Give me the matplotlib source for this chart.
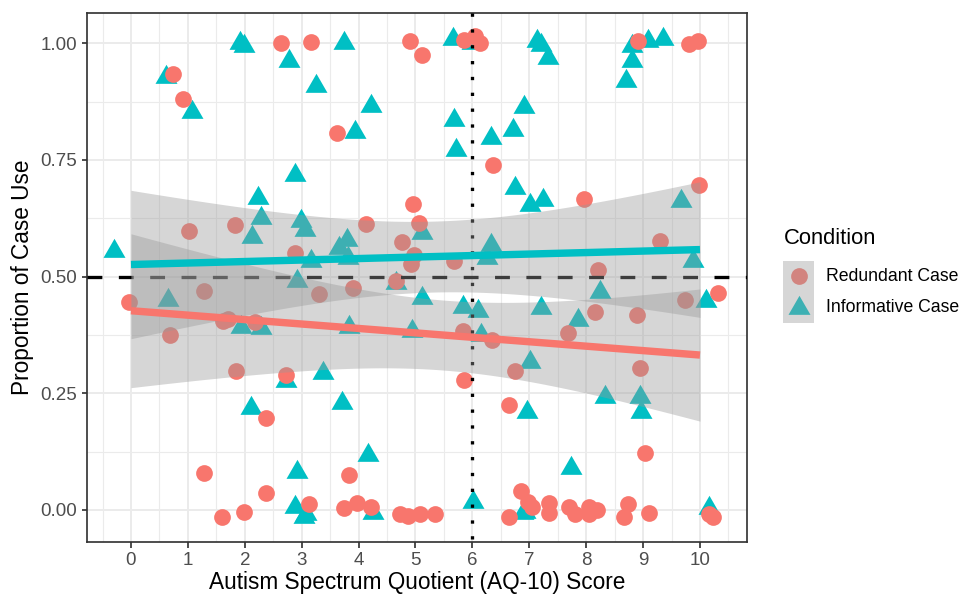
import numpy as np
import matplotlib
matplotlib.use("Agg")
import matplotlib.pyplot as plt
from matplotlib.patches import Rectangle

plt.rcParams['font.family'] = ['Liberation Sans', 'DejaVu Sans']

# ---- data -------------------------------------------------------------
conditions = ["Redundant Case", "Informative Case"]
colors = ["#F8766D", "#00BFC4"]
legend_colors = ["#D2847F", "#3DB0B3"]

# jittered participant-level proportions (Redundant Case)
red_x = [0.73, 0.92, 2.64, 3.17, 4.91, 5.12, 5.86, 6.04, 6.14, 3.62,
         6.36, 8.91, 9.80, 9.97, 9.98, 7.96, 9.30, 8.21, 10.32, 9.74,
         8.16, 8.90, 7.68, 6.74, 8.94, 6.65, 9.03, 6.85, 6.98, 7.04,
         7.35, 7.35, 7.70, 7.80, 8.05, 8.05, 8.19, 8.74, 8.66, 9.11,
         10.16, 10.22, 6.65, 3.84, 5.85, 3.13, 3.74, 3.97, 4.22, 4.72,
         4.87, 5.08, 5.35, 1.85, 2.72, 2.38, 1.28, 2.38, 1.98, 1.60,
         1.83, 1.02, 2.89, 1.29, -0.04, 1.62, 1.70, 2.18, 0.68, 4.96,
         5.06, 4.13, 4.77, 4.98, 4.92, 5.67, 4.66, 3.30, 3.91, 5.83,
         6.35]
red_y = [0.935, 0.881, 1.000, 1.003, 1.004, 0.974, 1.008, 1.015, 1.000, 0.808,
         0.740, 1.005, 0.998, 1.005, 0.697, 0.667, 0.577, 0.514, 0.465, 0.451,
         0.424, 0.418, 0.379, 0.298, 0.305, 0.225, 0.122, 0.041, 0.018, 0.007,
         0.016, -0.007, 0.007, -0.009, 0.006, -0.009, -0.001, 0.013, -0.016, -0.006,
         -0.009, -0.016, -0.015, 0.075, 0.279, 0.013, 0.005, 0.016, 0.007, -0.009,
         -0.012, -0.009, -0.009, 0.298, 0.290, 0.198, 0.079, 0.036, -0.004, -0.016,
         0.610, 0.597, 0.551, 0.470, 0.445, 0.405, 0.410, 0.402, 0.374, 0.656,
         0.615, 0.613, 0.574, 0.547, 0.527, 0.533, 0.491, 0.463, 0.476, 0.383,
         0.365]

# jittered participant-level proportions (Informative Case)
teal_x = [1.92, 1.98, 2.78, 0.62, 1.08, 2.89, 3.74, 5.66, 6.00, 3.25,
          4.22, 3.94, 5.67, 5.72, 6.32, 6.71, 6.74, 7.13, 7.20, 7.33,
          8.80, 9.09, 9.35, 8.80, 8.70, 6.90, 7.01, 7.24, 9.66, 9.87,
          8.25, 10.11, 7.21, 7.86, 7.02, 6.96, 8.33, 8.94, 8.96, 7.73,
          6.89, 6.93, 10.16, 3.37, 3.71, 4.16, 6.01, 3.07, 4.26, 2.73,
          2.11, 2.91, 2.88, 3.04, 2.23, 2.28, 2.13, -0.30, 2.98, 3.05,
          2.91, 0.65, 1.94, 2.28, 3.80, 3.66, 3.81, 3.16, 5.12, 6.32,
          6.26, 4.66, 5.12, 5.83, 6.10, 3.83, 4.94, 6.16]
teal_y = [1.000, 0.995, 0.962, 0.927, 0.852, 0.717, 1.000, 1.010, 1.000, 0.908,
          0.865, 0.810, 0.835, 0.771, 0.798, 0.815, 0.690, 1.005, 0.996, 0.969,
          0.994, 1.005, 1.009, 0.962, 0.919, 0.864, 0.654, 0.665, 0.662, 0.533,
          0.468, 0.447, 0.433, 0.408, 0.318, 0.211, 0.243, 0.243, 0.211, 0.089,
          -0.007, -0.004, 0.004, 0.294, 0.229, 0.118, 0.018, -0.009, -0.007, 0.277,
          0.218, 0.082, 0.007, -0.014, 0.669, 0.626, 0.586, 0.554, 0.620, 0.601,
          0.491, 0.450, 0.393, 0.390, 0.579, 0.562, 0.540, 0.533, 0.594, 0.567,
          0.540, 0.487, 0.454, 0.436, 0.426, 0.393, 0.383, 0.376]

# linear fits per condition with 95% confidence band parameters
fit_intercept = [0.427, 0.526]
fit_slope = [-0.0095, 0.0032]
ci_min_halfwidth = [0.075, 0.076]
ci_center_x = [5.5, 5.3]
ci_growth = [0.0267, 0.02635]
fit_range = (0, 10)

x_ticks = list(range(11))
y_ticks = [0.00, 0.25, 0.50, 0.75, 1.00]
y_tick_labels = ["0.00", "0.25", "0.50", "0.75", "1.00"]
chance_level = 0.5
cutoff_score = 6

# ---- figure -----------------------------------------------------------
DPI = 144
W, H = 963, 594
fig = plt.figure(figsize=(W / DPI, H / DPI), dpi=DPI)
ax = fig.add_axes([87 / W, 52 / H, 660 / W, 529.3 / H])

xlim = (-0.773, 10.826)
ylim = (-0.0686, 1.0656)
ax.set_xlim(*xlim)
ax.set_ylim(*ylim)

# grid (theme_bw style)
ax.set_axisbelow(True)
ax.set_xticks(x_ticks)
ax.set_xticks(np.arange(-0.5, 11, 1.0), minor=True)
ax.set_yticks(y_ticks)
ax.set_yticklabels(y_tick_labels)
ax.set_yticks([0.125, 0.375, 0.625, 0.875], minor=True)
ax.grid(which='major', color='#EBEBEB', lw=1.0)
ax.grid(which='minor', color='#EBEBEB', lw=0.55)
ax.tick_params(which='minor', length=0)
ax.tick_params(which='major', length=2.75, width=0.85, color='#333333',
               labelcolor='#4D4D4D', labelsize=9.4, pad=2.2)
for sp in ax.spines.values():
    sp.set_color('#333333')
    sp.set_linewidth(0.85)

# points
tri = [(-1.0, -0.577), (1.0, -0.577), (0.0, 1.155), (-1.0, -0.577)]
ax.scatter(teal_x, teal_y, marker=tri, s=161, color=colors[1],
           linewidths=0, zorder=2)
ax.scatter(red_x, red_y, marker='o', s=70, color=colors[0],
           linewidths=0, zorder=2)

# reference lines
ax.plot(xlim, [chance_level, chance_level], color='black', lw=1.65,
        linestyle=(0, (4.5, 5.0)), dash_capstyle='butt', zorder=3)
ax.plot([cutoff_score, cutoff_score], [ylim[1], ylim[0]], color='black',
        lw=1.65, linestyle=(0, (1.0, 3.8)), dash_capstyle='butt', zorder=3)

# fitted lines with confidence bands
xs = np.linspace(fit_range[0], fit_range[1], 200)
fits = []
for i in range(2):
    yhat = fit_intercept[i] + fit_slope[i] * xs
    hw = np.sqrt(ci_min_halfwidth[i] ** 2 + (ci_growth[i] * (xs - ci_center_x[i])) ** 2)
    ax.fill_between(xs, yhat - hw, yhat + hw, color='#999999', alpha=0.4,
                    lw=0, zorder=4)
    fits.append(yhat)
for i in range(2):
    ax.plot(xs, fits[i], color=colors[i], lw=3.7, solid_capstyle='butt', zorder=5)

ax.set_xlabel("Autism Spectrum Quotient (AQ-10) Score", fontsize=11.3,
              color='black', labelpad=0.8)
ax.set_ylabel("Proportion of Case Use", fontsize=11.3, color='black', labelpad=3)

# ---- legend -------------------------------------------------------------
lg = fig.add_axes([0, 0, 1, 1])
lg.set_xlim(0, W)
lg.set_ylim(H, 0)
lg.axis('off')
lg.patch.set_alpha(0)
lg.text(784, 239, "Condition", fontsize=11, va='center', ha='left')
key_x, key_w, key_h = 782.7, 31.6, 31.3
key_tops = [260.7, 292.0]
key_markers = ['o', tri]
key_sizes = [70, 161]
for i in range(2):
    lg.add_patch(Rectangle((key_x, key_tops[i]), key_w, key_h,
                           facecolor='#D6D6D6', edgecolor='none'))
    cy = key_tops[i] + key_h / 2
    lg.scatter([key_x + key_w / 2], [cy], marker=key_markers[i],
               s=key_sizes[i], color=legend_colors[i], linewidths=0)
    lg.text(826.5, cy, conditions[i], fontsize=8.8, va='center', ha='left')

fig.savefig("out.png", dpi=DPI)
